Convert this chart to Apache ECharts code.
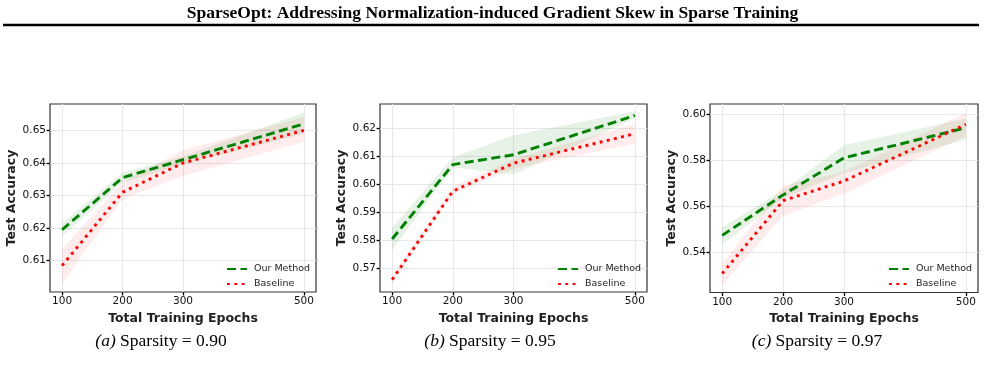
<!DOCTYPE html>
<html>
<head>
<meta charset="utf-8">
<script src="https://cdn.jsdelivr.net/npm/echarts@6/dist/echarts.min.js"></script>
<style>
    html, body { margin: 0; padding: 0; background: #fff; }
    #chart { width: 985px; height: 370px; }
</style>
</head>
<body>
<div id="chart"></div>
<script>
// epochs on the x axis (same for all three panels)
const epochs = [100, 200, 300, 500];

// (a) sparsity 0.90
const oursA = [0.6195, 0.6355, 0.641, 0.652];
const oursLoA = [0.6175, 0.634, 0.6395, 0.649];
const oursHiA = [0.6215, 0.637, 0.642, 0.6555];
const baseA = [0.6085, 0.631, 0.640, 0.650];
const baseLoA = [0.603, 0.629, 0.636, 0.6465];
const baseHiA = [0.6135, 0.634, 0.644, 0.654];
const yTicksA = [0.61, 0.62, 0.63, 0.64, 0.65];

// (b) sparsity 0.95
const oursB = [0.5805, 0.607, 0.6105, 0.6245];
const oursLoB = [0.5765, 0.606, 0.6035, 0.6235];
const oursHiB = [0.5845, 0.6095, 0.6175, 0.626];
const baseB = [0.566, 0.5975, 0.6075, 0.618];
const baseLoB = [0.5645, 0.5965, 0.6055, 0.6145];
const baseHiB = [0.567, 0.599, 0.609, 0.6215];
const yTicksB = [0.57, 0.58, 0.59, 0.60, 0.61, 0.62];

// (c) sparsity 0.97
const oursC = [0.5475, 0.565, 0.581, 0.594];
const oursLoC = [0.5435, 0.5635, 0.5745, 0.589];
const oursHiC = [0.551, 0.567, 0.5865, 0.598];
const baseC = [0.531, 0.5625, 0.571, 0.5955];
const baseLoC = [0.526, 0.556, 0.5655, 0.5905];
const baseHiC = [0.5355, 0.569, 0.575, 0.6005];
const yTicksC = [0.54, 0.56, 0.58, 0.60];

const panelTags = ['(a)', '(b)', '(c)'];
const sparsity = ['0.90', '0.95', '0.97'];

const SANS = 'DejaVu Sans';
const SERIF = 'Liberation Serif';

const panels = [
    { ours: oursA, oursLo: oursLoA, oursHi: oursHiA, base: baseA, baseLo: baseLoA, baseHi: baseHiA, yTicks: yTicksA, yMin: 0.6004, yMax: 0.6581 },
    { ours: oursB, oursLo: oursLoB, oursHi: oursHiB, base: baseB, baseLo: baseLoB, baseHi: baseHiB, yTicks: yTicksB, yMin: 0.5616, yMax: 0.6286 },
    { ours: oursC, oursLo: oursLoC, oursHi: oursHiC, base: baseC, baseLo: baseLoC, baseHi: baseHiC, yTicks: yTicksC, yMin: 0.5228, yMax: 0.6043 }
];

const gridBoxes = [
    { left: 50, top: 104, width: 266, height: 188 },
    { left: 380, top: 104, width: 267, height: 188 },
    { left: 710, top: 104, width: 268, height: 188.5 }
];
const captionX = [161, 490, 817];

const myChart = echarts.init(document.getElementById('chart'), null, { renderer: 'canvas' });

// shaded band between lo and hi, drawn once as one polygon
function bandSeries(idx, lo, hi, color) {
    return {
        type: 'custom',
        xAxisIndex: idx,
        yAxisIndex: idx,
        silent: true,
        z: 1,
        encode: { x: 0, y: [1, 2] },
        data: epochs.map((e, i) => [e, lo[i], hi[i]]),
        renderItem: (params, api) => {
            if (params.dataIndexInside !== 0) return;
            const n = params.dataInsideLength;
            const pts = [];
            for (let i = 0; i < n; i++) pts.push(api.coord([api.value(0, i), api.value(2, i)]));
            for (let i = n - 1; i >= 0; i--) pts.push(api.coord([api.value(0, i), api.value(1, i)]));
            return { type: 'polygon', shape: { points: pts }, style: { fill: color } };
        }
    };
}

const grid = [], xAxis = [], yAxis = [], series = [], legend = [];
const title = [{
    text: 'SparseOpt: Addressing Normalization-induced Gradient Skew in Sparse Training',
    left: 'center',
    top: 4,
    padding: 0,
    textStyle: { fontFamily: SERIF, fontWeight: 'bold', fontSize: 17.5, color: '#000' }
}];

panels.forEach((p, idx) => {
    const box = gridBoxes[idx];
    grid.push(Object.assign({
        show: true,
        borderColor: '#333',
        borderWidth: 1.2,
        backgroundColor: '#fff'
    }, box));

    xAxis.push({
        type: 'value',
        gridIndex: idx,
        min: 80,
        max: 520,
        name: 'Total Training Epochs',
        nameLocation: 'middle',
        nameGap: 11,
        nameTextStyle: { fontFamily: SANS, fontWeight: 'bold', fontSize: 12.5, color: '#222' },
        axisLine: { show: false },
        axisTick: { show: true, length: 3.5, customValues: epochs, lineStyle: { color: '#000', width: 1.3 } },
        axisLabel: { customValues: epochs, fontFamily: SANS, fontSize: 10.5, color: '#111', margin: 4 },
        splitLine: { show: true, lineStyle: { color: '#e8e8e8', width: 1 } }
    });

    yAxis.push({
        type: 'value',
        gridIndex: idx,
        min: p.yMin,
        max: p.yMax,
        name: 'Test Accuracy',
        nameLocation: 'middle',
        nameGap: 28,
        nameTextStyle: { fontFamily: SANS, fontWeight: 'bold', fontSize: 12.5, color: '#222' },
        axisLine: { show: false },
        axisTick: { show: true, length: 3.5, customValues: p.yTicks, lineStyle: { color: '#000', width: 1.3 } },
        axisLabel: {
            customValues: p.yTicks,
            fontFamily: SANS, fontSize: 10.5, color: '#111', margin: 4,
            formatter: v => v.toFixed(2)
        },
        splitLine: { show: true, lineStyle: { color: '#e8e8e8', width: 1 } }
    });

    series.push(bandSeries(idx, p.oursLo, p.oursHi, 'rgba(0,128,0,0.1)'));
    series.push(bandSeries(idx, p.baseLo, p.baseHi, 'rgba(255,0,0,0.075)'));

    series.push({
        name: 'Our Method',
        type: 'line',
        xAxisIndex: idx,
        yAxisIndex: idx,
        symbol: 'none',
        z: 3,
        data: epochs.map((e, i) => [e, p.ours[i]]),
        lineStyle: { color: '#008000', width: 2.9, type: [9, 4.5] },
        itemStyle: { color: '#008000' }
    });
    series.push({
        name: 'Baseline',
        type: 'line',
        xAxisIndex: idx,
        yAxisIndex: idx,
        symbol: 'none',
        z: 3,
        data: epochs.map((e, i) => [e, p.base[i]]),
        lineStyle: { color: '#ff0000', width: 2.9, type: [2.9, 4.4] },
        itemStyle: { color: '#ff0000' }
    });

    legend.push({
        data: ['Our Method', 'Baseline'],
        orient: 'vertical',
        left: box.left + box.width - 90,
        top: 264,
        padding: 0,
        itemWidth: 20,
        itemHeight: 10,
        itemGap: 5,
        selectedMode: false,
        itemStyle: { opacity: 0 },
        textStyle: { fontFamily: SANS, fontSize: 9.5, color: '#222', padding: [0, 0, 0, 2] }
    });

    title.push({
        text: '{i|' + panelTags[idx] + '} Sparsity = ' + sparsity[idx],
        left: captionX[idx],
        textAlign: 'center',
        top: 332,
        padding: 0,
        textStyle: {
            fontFamily: SERIF, fontWeight: 'normal', fontSize: 17.5, color: '#000',
            rich: { i: { fontFamily: SERIF, fontStyle: 'italic', fontSize: 17.5, color: '#000' } }
        }
    });
});

let option = {
    animation: false,
    backgroundColor: '#fff',
    title: title,
    grid: grid,
    xAxis: xAxis,
    yAxis: yAxis,
    legend: legend,
    series: series,
    graphic: [{
        type: 'line',
        shape: { x1: 3, y1: 25, x2: 979, y2: 25 },
        style: { stroke: '#000', lineWidth: 2.5 }
    }]
};

myChart.setOption(option);
</script>
</body>
</html>
